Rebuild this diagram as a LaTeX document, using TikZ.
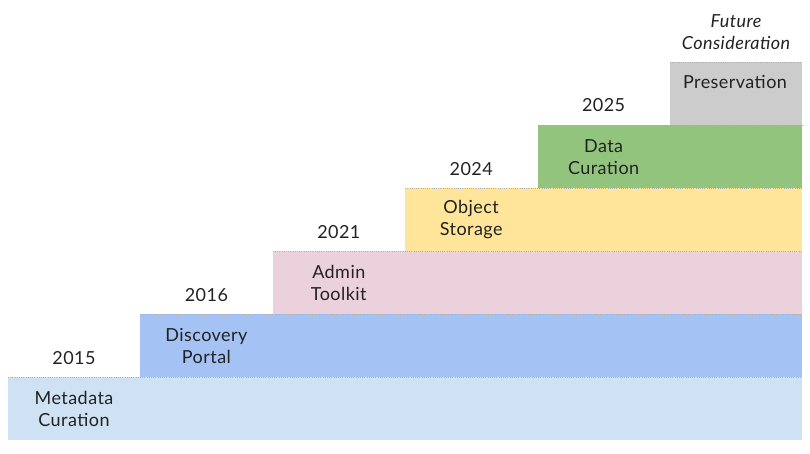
\documentclass[tikz,border=0pt]{standalone}
\usepackage{fontspec}
\setmainfont[LetterSpace=2.5]{Lato}
\definecolor{cmeta}{HTML}{CFE2F3}
\definecolor{cdisc}{HTML}{A4C2F4}
\definecolor{cadmin}{HTML}{EAD1DC}
\definecolor{cobj}{HTML}{FFE599}
\definecolor{cdata}{HTML}{93C47D}
\definecolor{cpres}{HTML}{CCCCCC}
\definecolor{ctext}{HTML}{222222}
\definecolor{cdot}{HTML}{B0B0B0}
\begin{document}
\begin{tikzpicture}[x=1pt,y=-1pt,
  stepbox/.style={draw=none, inner sep=0pt, outer sep=0pt, anchor=north west, minimum height=63pt},
  dotline/.style={draw=cdot, line width=0.8pt, dash pattern=on 1pt off 1.2pt},
  lab/.style={text=ctext, align=center, inner sep=0pt, font=\fontsize{18}{22}\selectfont},
  yearlab/.style={lab}]
\useasboundingbox (0,0) rectangle (810,454);
% boxes
\node[stepbox, fill=cmeta,  minimum width=794pt]   (b1) at (8,377) {};
\node[stepbox, fill=cdisc,  minimum width=661.6pt] (b2) at (140.4,314) {};
\node[stepbox, fill=cadmin, minimum width=529.2pt] (b3) at (272.8,251) {};
\node[stepbox, fill=cobj,   minimum width=396.8pt] (b4) at (405.2,188) {};
\node[stepbox, fill=cdata,  minimum width=264.4pt] (b5) at (537.6,125) {};
\node[stepbox, fill=cpres,  minimum width=132pt]   (b6) at (670,62) {};
% dotted top edges
\foreach \b in {b1,b2,b3,b4,b5,b6}
  \draw[dotline] (\b.north west) -- (\b.north east);
% box labels
\node[lab] (t1) at (74,409) {Metadata\\Curation};
\node[lab] (t2) at (206.4,346) {Discovery\\Portal};
\node[lab] (t3) at (338.8,283) {Admin\\Toolkit};
\node[lab] (t4) at (471.2,220) {Object\\Storage};
\node[lab] (t5) at (603.6,157) {Data\\Curation};
\node[lab] (t6) at (735,82) {Preservation};
% years
\node[yearlab] (y1) at (74,358) {2015};
\node[yearlab] (y2) at (206.4,295) {2016};
\node[yearlab] (y3) at (338.8,232) {2021};
\node[yearlab] (y4) at (471.2,169) {2024};
\node[yearlab] (y5) at (603.6,105) {2025};
\node[lab, font=\fontsize{18}{22}\selectfont\itshape] (fc) at (736,32) {Future\\Consideration};
\end{tikzpicture}
\end{document}
